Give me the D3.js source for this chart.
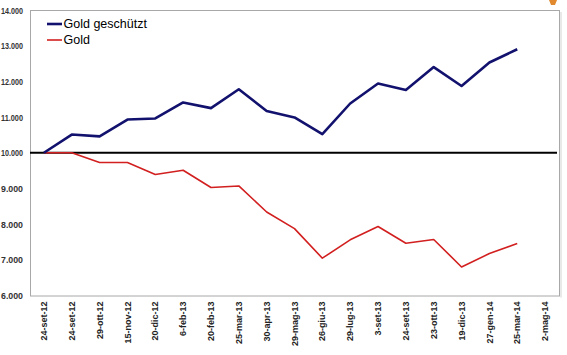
<!DOCTYPE html>
<html>
<head>
<meta charset="utf-8">
<script src="https://cdn.jsdelivr.net/npm/d3@7"></script>
<style>
  html, body { margin: 0; padding: 0; background: #fff; }
  svg { display: block; }
</style>
</head>
<body>
<svg id="chart" width="567" height="355"></svg>
<script>
// ---- Data ----
const categories = ["24-set-12","24-set-12","29-ott-12","15-nov-12","20-dic-12","6-feb-13","20-feb-13","25-mar-13","30-apr-13","29-mag-13","26-giu-13","29-lug-13","3-set-13","24-set-13","23-ott-13","19-dic-13","27-gen-14","25-mar-14","2-mag-14"];
const goldProtected = [10000,10510,10460,10930,10960,11410,11250,11780,11170,10990,10520,11380,11940,11760,12400,11870,12530,12900];
const gold = [10000,10000,9725,9725,9390,9510,9025,9070,8340,7875,7045,7560,7935,7465,7570,6800,7175,7455];
const yTicks = [6000,7000,8000,9000,10000,11000,12000,13000,14000];
const seriesNames = ["Gold geschützt","Gold"];
const baselineValue = 10000;

// ---- Layout ----
const svg = d3.select("#chart");
const plot = {left: 30, right: 559, top: 10, bottom: 295.5};

const x = d3.scaleBand().domain(d3.range(categories.length)).range([plot.left, plot.right]).padding(0);
const cx = i => x(i) + x.bandwidth() / 2;
const y = d3.scaleLinear().domain([6000, 14000]).range([plot.bottom, plot.top]);

const locale = d3.formatLocale({decimal: ",", thousands: ".", grouping: [3], currency: ["", ""]});
const fmt = locale.format(",");

// frame
svg.append("rect")
  .attr("x", plot.left + 0.5).attr("y", plot.top + 0.5)
  .attr("width", plot.right - plot.left).attr("height", plot.bottom - plot.top)
  .attr("fill", "none").attr("stroke", "#a8a8a8").attr("stroke-width", 1);
svg.append("line")
  .attr("x1", plot.right + 2).attr("x2", plot.right + 2)
  .attr("y1", plot.top + 2).attr("y2", plot.bottom + 2)
  .attr("stroke", "#e2e2e2").attr("stroke-width", 1.5);

// y axis
const yAxis = svg.append("g")
  .attr("transform", `translate(${plot.left},0)`)
  .call(d3.axisLeft(y).tickValues(yTicks).tickFormat(fmt).tickSize(0).tickPadding(7));
yAxis.select(".domain").remove();
yAxis.selectAll("text")
  .attr("font-family", "'Liberation Sans', Arial, sans-serif")
  .attr("font-size", 9.5).attr("font-weight", "bold").attr("fill", "#333")
  .attr("textLength", 22).attr("lengthAdjust", "spacingAndGlyphs");

// x axis
const xAxis = svg.append("g")
  .attr("transform", `translate(0,${plot.bottom})`)
  .call(d3.axisBottom(x).tickFormat(i => categories[i]).tickSize(0).tickPadding(0));
xAxis.select(".domain").remove();
xAxis.selectAll("text")
  .attr("transform", "rotate(-90)")
  .attr("text-anchor", "end")
  .attr("x", -6).attr("y", 0).attr("dy", "0.35em")
  .attr("font-family", "'Liberation Sans', Arial, sans-serif")
  .attr("font-size", 9).attr("font-weight", "bold").attr("fill", "#222");

// baseline
svg.append("line")
  .attr("x1", plot.left).attr("x2", plot.right - 2)
  .attr("y1", y(baselineValue)).attr("y2", y(baselineValue))
  .attr("stroke", "#000").attr("stroke-width", 2);

const line = d3.line().x((d, i) => cx(i)).y(d => y(d));

svg.append("path").datum(gold)
  .attr("d", line).attr("fill", "none")
  .attr("stroke", "#d21f1f").attr("stroke-width", 1.6).attr("stroke-linejoin", "round");

svg.append("path").datum(goldProtected)
  .attr("d", line).attr("fill", "none")
  .attr("stroke", "#12126e").attr("stroke-width", 2.6).attr("stroke-linejoin", "round");

// legend
const legend = svg.append("g");
const legendColors = ["#12126e", "#d21f1f"];
const legendWidths = [2.6, 1.6];
seriesNames.forEach((name, k) => {
  const ly = 24 + k * 16;
  legend.append("line").attr("x1", 47).attr("x2", 62).attr("y1", ly).attr("y2", ly)
    .attr("stroke", legendColors[k]).attr("stroke-width", legendWidths[k]);
  legend.append("text").attr("x", 63.5).attr("y", ly).attr("dy", "0.35em")
    .attr("font-family", "'Liberation Sans', Arial, sans-serif")
    .attr("font-size", 12.5).attr("fill", "#000").text(name);
});

// decorative corner mark
svg.append("path")
  .attr("d", "M549,0 L557,0 L555,5 L551,5 Z")
  .attr("fill", "#e0892e");
</script>
</body>
</html>
